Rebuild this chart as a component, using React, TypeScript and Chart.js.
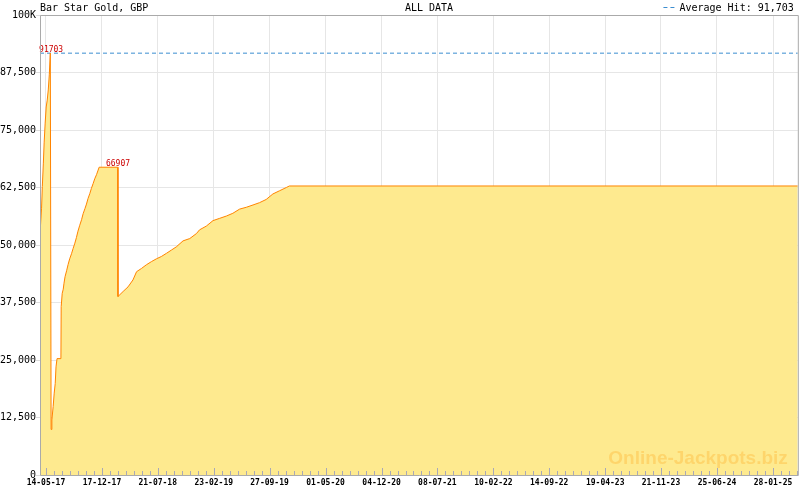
import React, { useEffect, useRef } from 'react';
import { Chart, registerables } from 'chart.js';

Chart.register(...registerables);

// ---------- data ----------
const chartTitle = 'Bar Star Gold, GBP';
const rangeLabel = 'ALL DATA';
const averageLabel = 'Average Hit';
const averageHit = 91703;
const watermarkText = 'Online-Jackpots.biz';

const seriesDates = [
  '2017-04-21', '2017-04-27', '2017-04-30', '2017-05-04', '2017-05-07', '2017-05-11',
  '2017-05-15', '2017-05-19', '2017-05-23', '2017-05-27', '2017-05-31', '2017-06-02',
  '2017-06-03', '2017-06-06', '2017-06-11', '2017-06-15', '2017-06-19', '2017-06-22',
  '2017-06-26', '2017-07-11', '2017-07-12', '2017-07-16', '2017-07-20', '2017-07-23', '2017-07-27',
  '2017-08-02', '2017-08-08', '2017-08-14', '2017-08-21', '2017-08-27', '2017-09-03',
  '2017-09-09', '2017-09-15', '2017-09-22', '2017-09-29', '2017-10-05', '2017-10-12',
  '2017-10-18', '2017-10-24', '2017-10-31', '2017-11-06', '2017-11-13', '2017-11-19',
  '2017-11-26', '2017-12-01', '2017-12-06', '2018-02-16',
  '2018-02-17', '2018-03-09', '2018-03-28', '2018-04-16', '2018-04-30', '2018-05-19',
  '2018-06-07', '2018-06-27', '2018-07-16', '2018-08-04', '2018-08-24', '2018-09-12',
  '2018-10-01', '2018-10-27', '2018-11-22', '2018-12-18', '2018-12-30', '2019-01-25',
  '2019-02-20', '2019-03-18', '2019-04-13', '2019-05-08', '2019-06-03', '2019-06-29',
  '2019-07-25', '2019-08-19', '2019-09-14', '2019-10-10', '2019-11-05', '2019-12-01',
  '2019-12-13', '2025-05-04',
];

const seriesValues = [
  52500, 58000, 62700, 67800, 72200, 76500,
  80000, 81500, 83700, 87000, 91703, 91703,
  9900, 12000, 14900, 17800, 19900, 23500,
  25300, 25300, 36600, 39500, 40400, 41700, 43100,
  44400, 45800, 47000, 48100, 49200, 50400,
  51600, 53000, 54300, 55500, 56800, 57900,
  58900, 60100, 61200, 62300, 63400, 64400,
  65300, 66100, 66907, 66907,
  38800, 39900, 40900, 42400, 44200, 44900,
  45700, 46400, 47000, 47500, 48200, 48900,
  49600, 50900, 51400, 52500, 53300, 54100,
  55300, 55800, 56300, 56900, 57800, 58200,
  58700, 59200, 59900, 61100, 61800, 62500,
  62830, 62830,
];

const hitDates = ['2017-06-03', '2018-02-17'];
const hitValues = [91703, 66907];

const majorTickDates = [
  '2017-05-14', '2017-12-17', '2018-07-21', '2019-02-23', '2019-09-27', '2020-05-01',
  '2020-12-04', '2021-07-08', '2022-02-10', '2022-09-14', '2023-04-19', '2023-11-21',
  '2024-06-25', '2025-01-28',
];
const minorPerMajor = 6;

const yTickValues = [0, 12500, 25000, 37500, 50000, 62500, 75000, 87500, 100000];
const yTickLabels = ['0', '12,500', '25,000', '37,500', '50,000', '62,500', '75,000', '87,500', '100K'];

// ---------- helpers ----------
const DAY = 86400000;
function toDay(s: string): number {
  const [y, m, d] = s.split('-').map(Number);
  return Date.UTC(y, m - 1, d) / DAY;
}
function fmtDay(v: number): string {
  const dt = new Date(Math.round(v) * DAY);
  const p = (n: number) => String(n).padStart(2, '0');
  return `${p(dt.getUTCDate())}-${p(dt.getUTCMonth() + 1)}-${p(dt.getUTCFullYear() % 100)}`;
}

const MONO = "'DejaVu Sans Mono', monospace";

function buildXTicks(min: number, max: number) {
  const majors = majorTickDates.map(toDay);
  const ticks: { value: number; major: boolean }[] = [];
  for (let i = 0; i < majors.length; i++) {
    ticks.push({ value: majors[i], major: true });
    if (i < majors.length - 1) {
      const st = (majors[i + 1] - majors[i]) / (minorPerMajor + 1);
      for (let k = 1; k <= minorPerMajor; k++) ticks.push({ value: majors[i] + k * st, major: false });
    }
  }
  const avgStep = (majors[majors.length - 1] - majors[0]) / ((majors.length - 1) * (minorPerMajor + 1));
  for (let v = majors[majors.length - 1] + avgStep; v <= max; v += avgStep) ticks.push({ value: v, major: false });
  const before: { value: number; major: boolean }[] = [];
  for (let v = majors[0] - avgStep; v >= min; v -= avgStep) before.unshift({ value: v, major: false });
  return [...before, ...ticks];
}

const overlayPlugin = {
  id: 'overlay',
  afterDatasetsDraw(chart: any) {
    const { ctx, chartArea } = chart;
    const xs = chart.scales.x;
    const ys = chart.scales.y;
    const { left, right, top, bottom } = chartArea;
    ctx.save();

    // watermark
    ctx.font = "bold 19px 'Liberation Sans', Arial, sans-serif";
    ctx.fillStyle = 'rgba(255,150,0,0.25)';
    ctx.textAlign = 'right';
    ctx.textBaseline = 'alphabetic';
    ctx.fillText(watermarkText, right - 10, bottom - 11);

    // hit labels
    ctx.font = `8px ${MONO}`;
    ctx.fillStyle = '#cc0000';
    ctx.textAlign = 'center';
    ctx.textBaseline = 'alphabetic';
    hitDates.forEach((d, i) => {
      const px = xs.getPixelForValue(toDay(d));
      const py = ys.getPixelForValue(hitValues[i]);
      ctx.fillText(String(hitValues[i]), px, py - 1);
    });

    // x tick marks (inside, on top of fill)
    ctx.strokeStyle = '#a9a9b8';
    ctx.lineWidth = 1;
    ctx.beginPath();
    xs.ticks.forEach((t: any) => {
      const px = Math.round(xs.getPixelForValue(t.value)) + 0.5;
      if (px < left || px > right) return;
      ctx.moveTo(px, bottom);
      ctx.lineTo(px, bottom - (t.major ? 7 : 4));
    });
    ctx.stroke();

    // frame
    ctx.strokeStyle = '#aaaaaa';
    ctx.beginPath();
    ctx.moveTo(left + 0.5, top + 0.5);
    ctx.lineTo(right + 0.5, top + 0.5);
    ctx.lineTo(right + 0.5, bottom + 0.5);
    ctx.lineTo(left + 0.5, bottom + 0.5);
    ctx.closePath();
    ctx.stroke();
    ctx.restore();
  },
  afterDraw(chart: any) {
    const { ctx, chartArea } = chart;
    ctx.save();
    ctx.font = `10px ${MONO}`;
    ctx.fillStyle = '#000';
    ctx.textBaseline = 'alphabetic';
    ctx.textAlign = 'left';
    ctx.fillText(chartTitle, chartArea.left, 11);
    ctx.textAlign = 'center';
    ctx.fillText(rangeLabel, 429, 11);
    ctx.textAlign = 'right';
    const legendText = `${averageLabel}: ${averageHit.toLocaleString('en-US')}`;
    const rx = chartArea.right - 4;
    ctx.fillText(legendText, rx, 11);
    const tw = ctx.measureText(legendText).width;
    const ds = chart.data.datasets[1];
    ctx.strokeStyle = ds.borderColor;
    ctx.lineWidth = 1;
    ctx.setLineDash(ds.borderDash);
    ctx.beginPath();
    ctx.moveTo(rx - tw - 16, 7.5);
    ctx.lineTo(rx - tw - 5, 7.5);
    ctx.stroke();
    ctx.restore();
  },
};

export default function App() {
  const ref = useRef<HTMLCanvasElement | null>(null);

  useEffect(() => {
    document.body.style.margin = '0';
    const canvas = ref.current;
    if (!canvas) return;
    const xMin = toDay(seriesDates[0]);
    const xMax = toDay(seriesDates[seriesDates.length - 1]);
    const points = seriesDates.map((d, i) => ({ x: toDay(d), y: seriesValues[i] }));

    const chart = new Chart(canvas, {
      type: 'line',
      data: {
        datasets: [
          {
            label: chartTitle,
            data: points,
            borderColor: '#ff8400',
            borderWidth: 1,
            backgroundColor: '#feea8f',
            fill: 'origin',
            pointRadius: 0,
            tension: 0,
          },
          {
            label: averageLabel,
            data: [{ x: xMin, y: averageHit }, { x: xMax, y: averageHit }],
            borderColor: '#3b8dd0',
            borderDash: [4, 3],
            borderWidth: 1,
            pointRadius: 0,
            fill: false,
          },
        ],
      } as any,
      options: {
        animation: false,
        responsive: false,
        devicePixelRatio: 1,
        events: [],
        layout: { padding: { top: 15, right: 1, left: 0, bottom: 0 } },
        plugins: { legend: { display: false }, tooltip: { enabled: false }, title: { display: false } },
        scales: {
          x: {
            type: 'linear',
            min: xMin,
            max: xMax,
            afterFit: (s: any) => { s.height = 15; },
            afterBuildTicks: (s: any) => { s.ticks = buildXTicks(s.min, s.max); },
            grid: {
              drawTicks: false,
              color: (c: any) => (c.tick && c.tick.major ? '#e6e6e6' : 'rgba(0,0,0,0)'),
            },
            border: { display: false },
            ticks: {
              autoSkip: false,
              maxRotation: 0,
              minRotation: 0,
              padding: 3,
              color: '#000',
              font: { family: MONO, size: 8, weight: 'bold' },
              callback: (v: any, i: number, ticks: any[]) => (ticks[i] && ticks[i].major ? fmtDay(Number(v)) : ''),
            },
          },
          y: {
            type: 'linear',
            min: 0,
            max: 100000,
            afterFit: (s: any) => { s.width = 40; },
            afterBuildTicks: (s: any) => { s.ticks = yTickValues.map((v) => ({ value: v })); },
            grid: { color: '#e6e6e6', tickLength: 4, tickColor: '#dcdcdc' },
            border: { display: false },
            ticks: {
              padding: 0,
              color: '#000',
              font: { family: MONO, size: 10 },
              callback: (v: any) => {
                const i = yTickValues.indexOf(Number(v));
                return i >= 0 ? yTickLabels[i] : '';
              },
            },
          },
        },
      } as any,
      plugins: [overlayPlugin],
    });
    return () => chart.destroy();
  }, []);

  return (
    <div style={{ position: 'absolute', left: 0, top: 0, width: 800, height: 490, background: '#fff' }}>
      <canvas ref={ref} width={800} height={490} style={{ display: 'block', width: 800, height: 490 }} />
    </div>
  );
}
